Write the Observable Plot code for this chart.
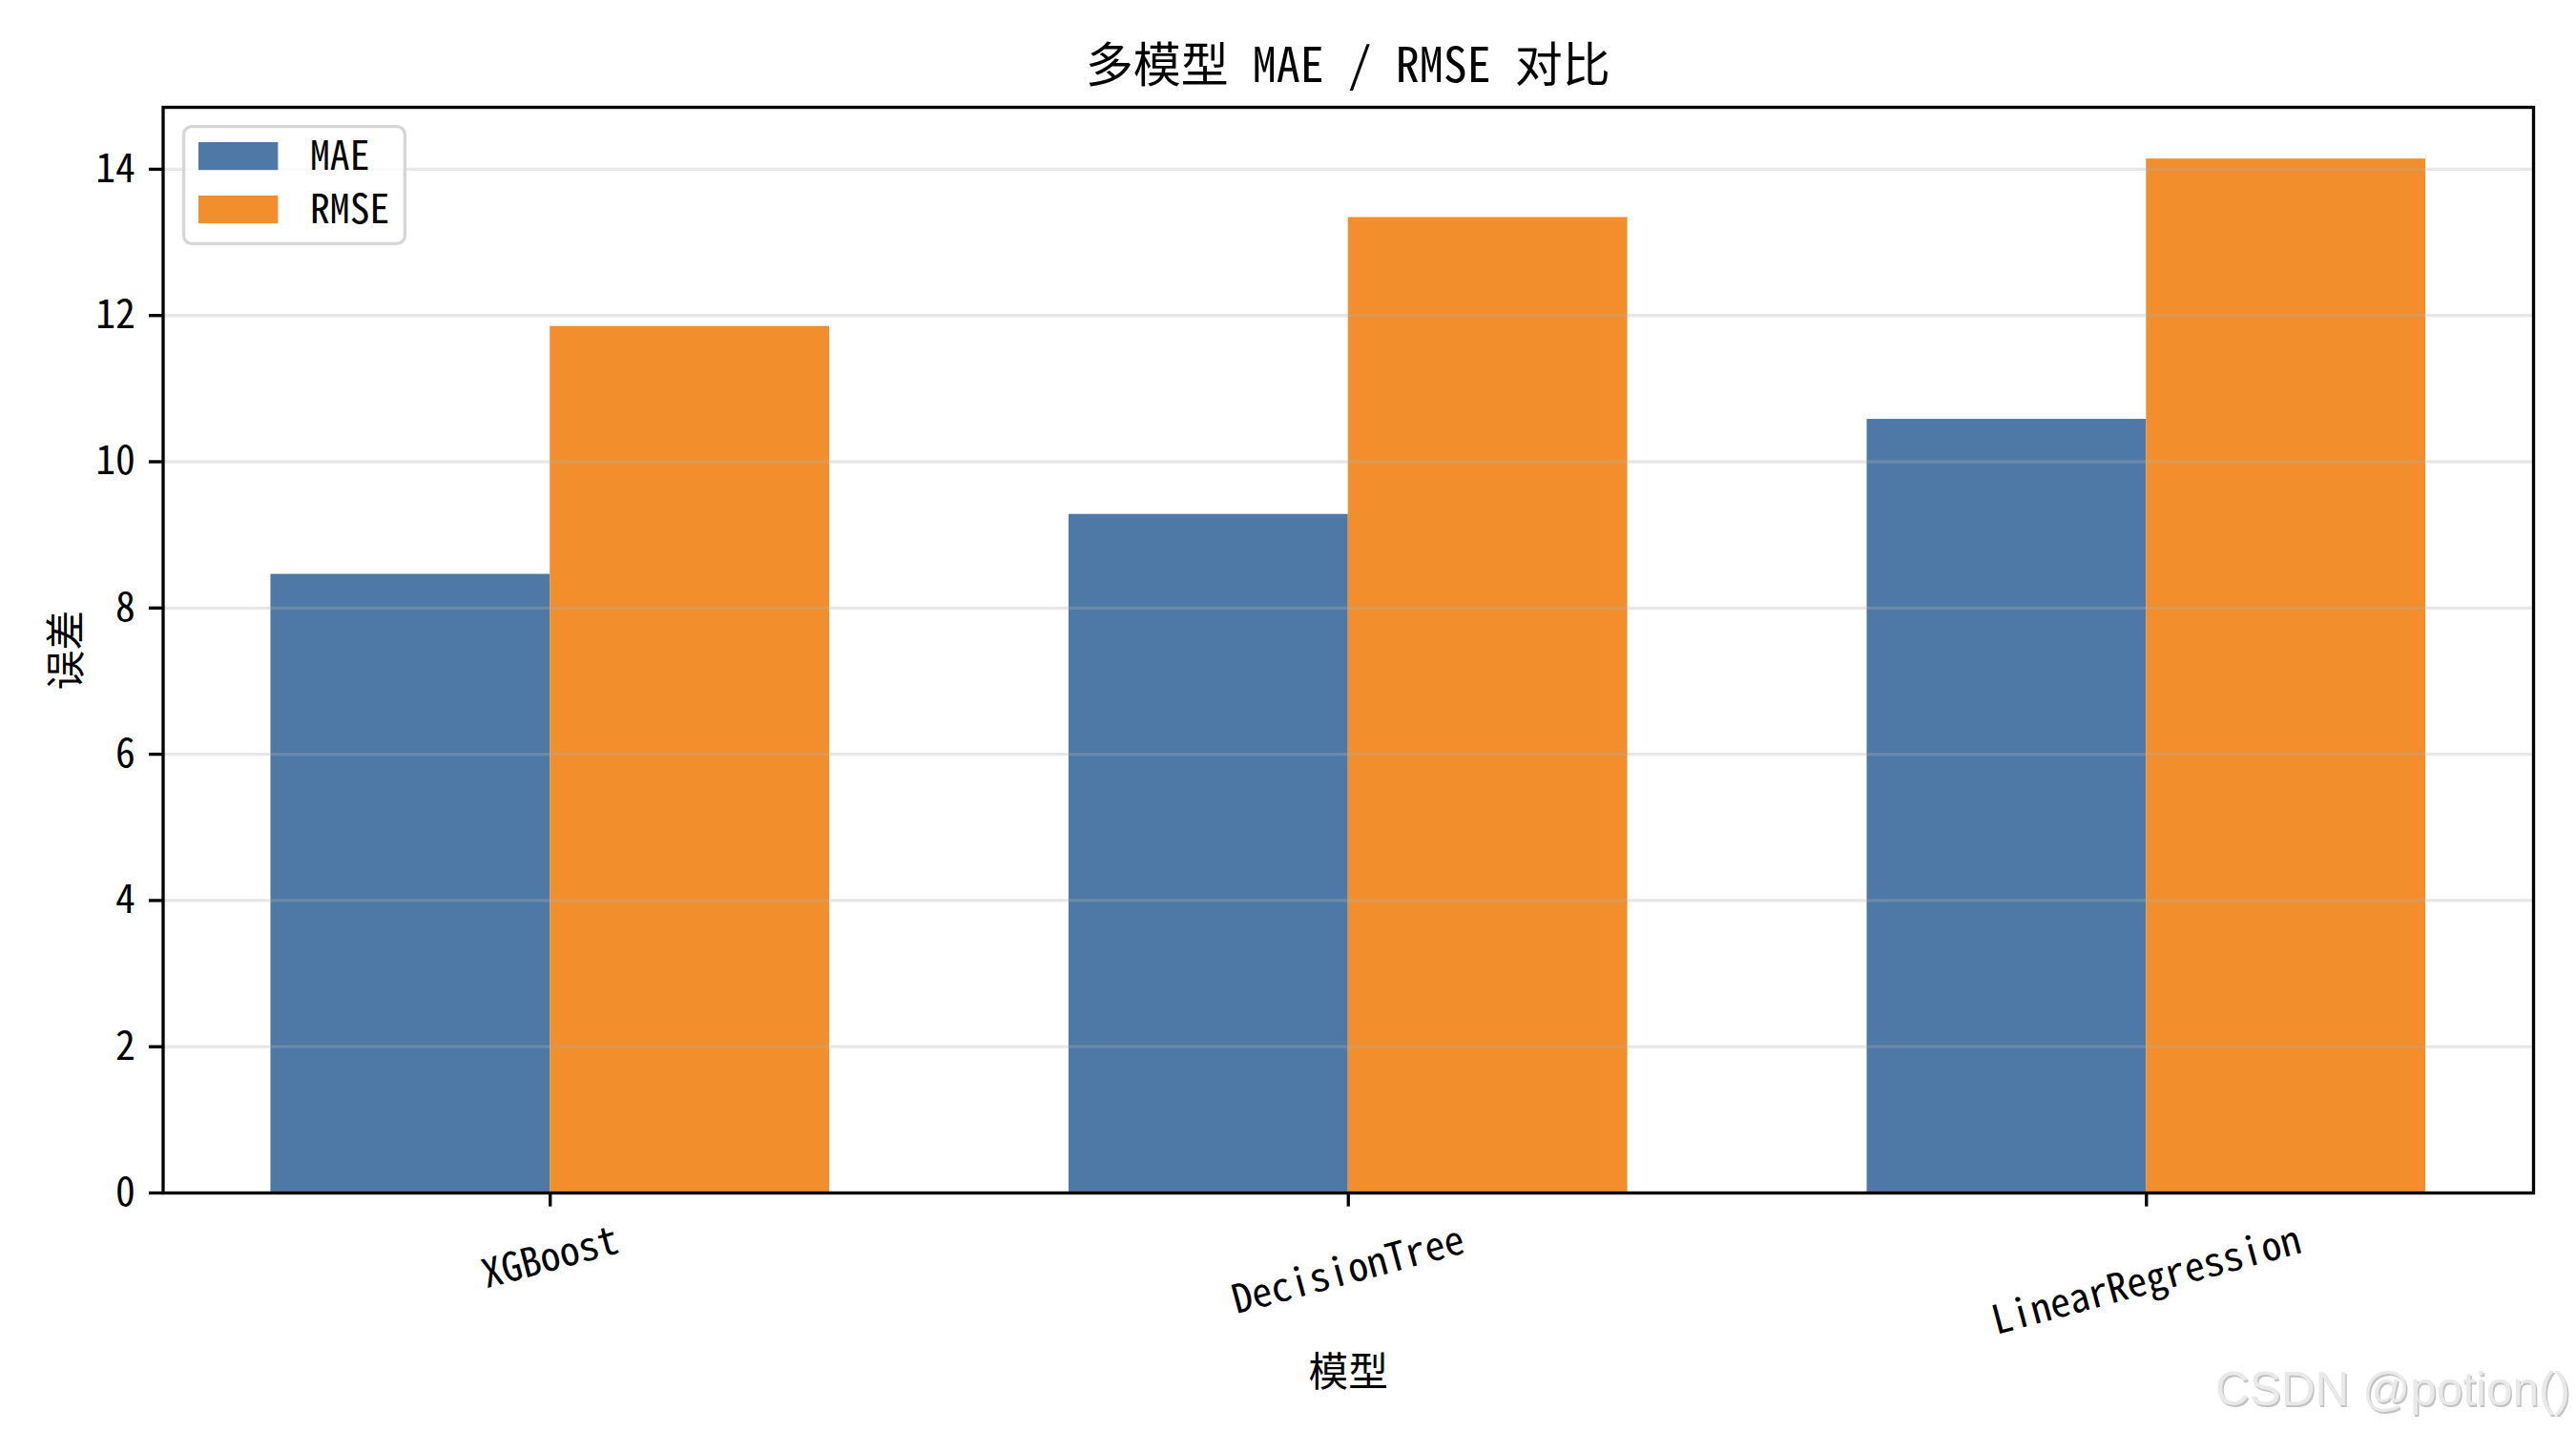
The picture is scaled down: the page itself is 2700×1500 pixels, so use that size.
<!DOCTYPE html>
<html>
<head>
<meta charset="utf-8">
<script src="https://cdn.jsdelivr.net/npm/d3@7"></script>
<script src="https://cdn.jsdelivr.net/npm/@observablehq/plot@0.6"></script>
<style>
html, body { margin: 0; padding: 0; background: #fff; }
#chart { width: 2700px; height: 1500px; overflow: hidden; }
</style>
</head>
<body>
<div id="chart"></div>
<script>
// ---------- data ----------
const chartTitle = "多模型 MAE / RMSE 对比";
const xLabel = "模型";
const yLabel = "误差";
const watermark = "CSDN @potion()";
const models = ["XGBoost", "DecisionTree", "LinearRegression"];
const series = ["MAE", "RMSE"];
const maeValues = [8.46, 9.28, 10.58];
const rmseValues = [11.85, 13.34, 14.14];
const yTicks = [0, 2, 4, 6, 8, 10, 12, 14];
const colors = ["#4E79A7", "#F28E2B"];

const rows = models.flatMap((m, i) => [
  {model: m, i, metric: series[0], value: maeValues[i]},
  {model: m, i, metric: series[1], value: rmseValues[i]}
]);

// ---------- fonts ----------
function hasFont(name) {
  const c = document.createElement("canvas").getContext("2d");
  const s = "MAE RMSE 0123 模型误差 LinearRegression";
  return ["monospace", "serif", "sans-serif"].some(g => {
    c.font = `40px ${g}`; const a = c.measureText(s).width;
    c.font = `40px "${name}", ${g}`; const b = c.measureText(s).width;
    return Math.abs(a - b) > 0.5;
  });
}
const monoCJK = hasFont("Noto Sans Mono CJK SC");
const LAT = monoCJK ? "'Noto Sans Mono CJK SC'" : "'DejaVu Sans Mono'";
const CJK = monoCJK ? "'Noto Sans Mono CJK SC'" : "'Noto Sans CJK SC'";
const PT = 300 / 72;
const baseSize = 10 * PT;
const titleSize = 12 * PT;
const latK = monoCJK ? 1 : 0.86;
const latSize = baseSize * latK;

// ---------- layout ----------
const W = 2700, H = 1500;
const mL = 170.5, mR = 45, mT = 112, mB = 250;
const barW = 0.35;
const lo = -barW, hi = models.length - 1 + barW, pad = 0.05 * (hi - lo);
const yMax = d3.max(maeValues.concat(rmseValues)) * 1.05;
const lw = 0.8 * PT, tickLen = 3.5 * PT, tickPad = 3.5 * PT;

const ctx = document.createElement("canvas").getContext("2d");
function textWidth(s, size, fam) { ctx.font = `${size}px ${fam}`; return ctx.measureText(s).width; }
const rot = 15 * Math.PI / 180;

const tickLabelMarks = models.map((m, i) => {
  const w = textWidth(m, latSize, LAT);
  const dy = tickLen + tickPad + (w * Math.sin(rot) + baseSize * Math.cos(rot)) / 2;
  return Plot.text([{m, i}], {
    x: "i", text: "m", frameAnchor: "bottom", dy, rotate: -15,
    textAnchor: "middle", lineAnchor: "middle",
    fontFamily: LAT, fontSize: latSize, fill: "black"
  });
});

const chart = Plot.plot({
  width: W, height: H,
  marginLeft: mL, marginRight: mR, marginTop: mT, marginBottom: mB,
  style: {fontFamily: LAT, fontSize: latSize + "px", color: "black", background: "white"},
  x: {type: "linear", domain: [lo - pad, hi + pad]},
  y: {domain: [0, yMax]},
  color: {domain: series, range: colors},
  marks: [
    Plot.rectY(rows, {
      x1: d => d.i + (d.metric === series[0] ? -barW : 0),
      x2: d => d.i + (d.metric === series[0] ? 0 : barW),
      y: "value", fill: "metric"
    }),
    Plot.gridY(yTicks, {stroke: "#b0b0b0", strokeOpacity: 0.3, strokeWidth: lw}),
    Plot.axisY(yTicks, {tickSize: tickLen, tickPadding: tickPad, strokeWidth: lw, stroke: "black",
      fill: "black", label: null, tickFormat: d => String(d)}),
    Plot.axisX(models.map((m, i) => i), {tickSize: tickLen, strokeWidth: lw, stroke: "black",
      tickFormat: () => "", label: null}),
    ...tickLabelMarks,
    Plot.text([xLabel], {text: d => d, frameAnchor: "bottom", dy: 189.5,
      textAnchor: "middle", lineAnchor: "middle",
      fontFamily: CJK, fontSize: baseSize, fill: "black"}),
    Plot.text([yLabel], {text: d => d, frameAnchor: "left", dx: -100.5, rotate: -90,
      textAnchor: "middle", lineAnchor: "middle",
      fontFamily: CJK, fontSize: baseSize, fill: "black"}),
    Plot.frame({stroke: "black", strokeWidth: lw})
  ]
});
document.getElementById("chart").appendChild(chart);

// ---------- title, legend, watermark ----------
const svg = d3.select(chart);
const cjkRe = /[\u3000-\u9fff\uff00-\uffef]+|[^\u3000-\u9fff\uff00-\uffef]+/g;
function richText(sel, str, size) {
  (str.match(cjkRe) || []).forEach(run => {
    const isCJK = /[\u3000-\u9fff\uff00-\uffef]/.test(run);
    sel.append("tspan")
      .attr("font-family", isCJK ? CJK : LAT)
      .attr("font-size", isCJK ? size : size * latK)
      .text(run);
  });
}
const tt = svg.append("text")
  .attr("x", (mL + W - mR) / 2).attr("y", 85.5)
  .attr("text-anchor", "middle").attr("fill", "black");
richText(tt, chartTitle, titleSize);

// legend
const legBox = {x: 192.6, y: 132.6, w: 231.8, h: 122.8};
const sw = {x: 208, y: 149, w: 2 * baseSize, h: 0.7 * baseSize, pitch: 56, textX: 325};
const color = chart.scale("color");
svg.append("rect")
  .attr("x", legBox.x).attr("y", legBox.y).attr("width", legBox.w).attr("height", legBox.h)
  .attr("rx", 0.2 * baseSize).attr("fill", "white").attr("fill-opacity", 0.8)
  .attr("stroke", "#d6d6d6").attr("stroke-width", lw);
series.forEach((s, k) => {
  const y0 = sw.y + k * sw.pitch;
  svg.append("rect").attr("x", sw.x).attr("y", y0).attr("width", sw.w).attr("height", sw.h)
    .attr("fill", color.apply(s));
  svg.append("text").attr("x", sw.textX).attr("y", y0 + sw.h)
    .attr("text-anchor", "start").attr("fill", "black")
    .attr("font-family", LAT).attr("font-size", latSize).text(s);
});

// watermark
svg.append("text").attr("x", 2695.5).attr("y", 1474.5).attr("text-anchor", "end")
  .attr("font-family", "'Liberation Sans', Arial, sans-serif").attr("font-size", 49.5)
  .attr("fill", "#c2c2c2").text(watermark);
svg.append("text").attr("x", 2694).attr("y", 1473).attr("text-anchor", "end")
  .attr("font-family", "'Liberation Sans', Arial, sans-serif").attr("font-size", 49.5)
  .attr("fill", "#e9e9e9").text(watermark);
</script>
</body>
</html>
